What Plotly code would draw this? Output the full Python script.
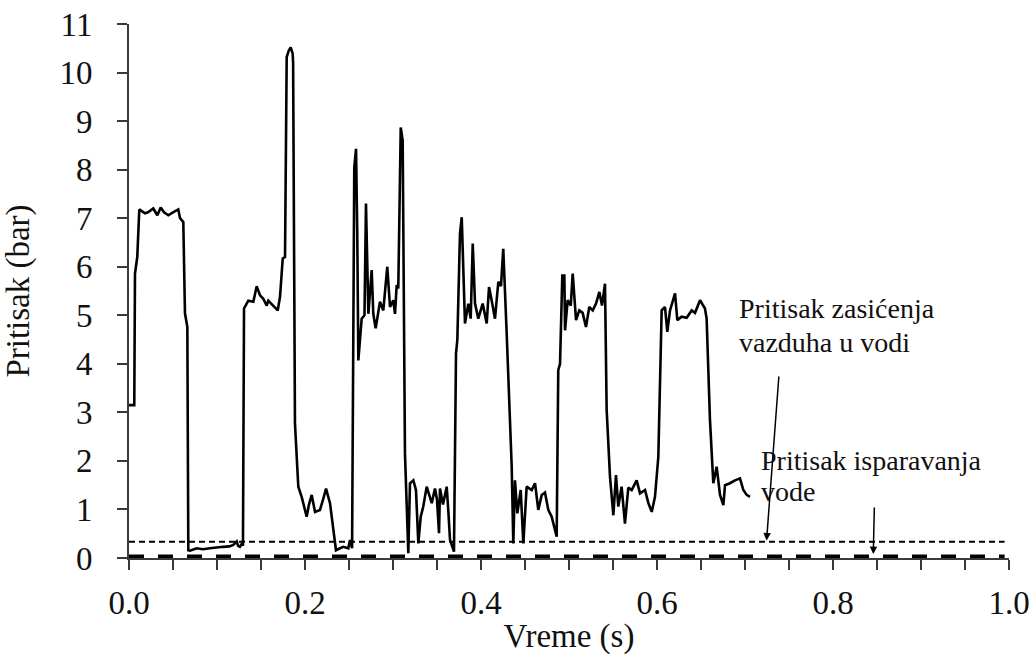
import plotly.graph_objects as go

# Time (s) and pressure (bar)
time_s = [0.000, 0.006, 0.0068, 0.0094, 0.0117, 0.0182, 0.0216, 0.0276, 0.0322, 0.036, 0.0398, 0.0447, 0.050, 0.056, 0.058, 0.0617, 0.0636, 0.0663, 0.0674,
          0.0693, 0.077, 0.084, 0.092, 0.099, 0.107, 0.114, 0.1185, 0.1224, 0.124, 0.126, 0.1284, 0.1295, 0.1307,
          0.1356, 0.1413, 0.1451, 0.1489, 0.1526, 0.1565, 0.1583, 0.164, 0.169, 0.1716, 0.1747, 0.1773, 0.1792, 0.1815, 0.1837, 0.186, 0.1865, 0.1886,
          0.1924, 0.1962, 0.2019, 0.2045, 0.2076, 0.2114, 0.217, 0.2205, 0.2239, 0.2284, 0.2322, 0.2352, 0.2398, 0.2435, 0.2492, 0.2511, 0.2535,
          0.256, 0.258, 0.2594, 0.2606, 0.2644, 0.2676, 0.2693, 0.272, 0.2758, 0.2776, 0.2803, 0.2852, 0.289, 0.2935, 0.2966, 0.3003, 0.3023, 0.3042, 0.306, 0.3088, 0.311,
          0.3136, 0.3174, 0.3193, 0.3231, 0.3261, 0.3288, 0.3315, 0.3344, 0.3383, 0.3409, 0.344, 0.3477, 0.350, 0.3523, 0.3534, 0.3568, 0.361, 0.3628, 0.3648, 0.3693,
          0.3716, 0.3731, 0.3761, 0.3781, 0.3799, 0.3818, 0.3856, 0.3883, 0.3906, 0.3932, 0.3969, 0.4019, 0.4065, 0.4091, 0.4122, 0.4159, 0.4197, 0.4227, 0.4253, 0.4269, 0.4292,
          0.4349, 0.4367, 0.4386, 0.4413, 0.4451, 0.4481, 0.4519, 0.4576, 0.4614, 0.4651, 0.469, 0.4727, 0.4765, 0.4803, 0.486,
          0.4878, 0.4898, 0.4924, 0.4947, 0.4955, 0.4985, 0.502, 0.5042, 0.508, 0.5117, 0.5155, 0.5193, 0.523, 0.527, 0.5307, 0.5345, 0.5375, 0.5409,
          0.5428, 0.5466, 0.5504, 0.5534, 0.556, 0.5598, 0.5636, 0.5674, 0.5712, 0.5769, 0.5807, 0.5864, 0.5902, 0.594, 0.5977,
          0.6015, 0.6053, 0.6091, 0.6117, 0.6148, 0.6205, 0.6231, 0.628, 0.6337, 0.6394, 0.6432, 0.6489, 0.6545, 0.6564,
          0.6602, 0.664, 0.6678, 0.6716, 0.6754, 0.6773, 0.6829, 0.6886, 0.6943, 0.6981, 0.7019, 0.7057]

pressure_bar = [3.15, 3.15, 5.86, 6.2, 7.18, 7.10, 7.12, 7.2, 7.06, 7.22, 7.12, 7.06, 7.12, 7.18, 7.0, 6.92, 5.04, 4.76, 0.16,
                0.15, 0.2, 0.18, 0.2, 0.22, 0.23, 0.24, 0.27, 0.34, 0.25, 0.23, 0.3, 0.25, 5.14,
                5.3, 5.28, 5.6, 5.41, 5.34, 5.2, 5.3, 5.2, 5.1, 5.38, 6.17, 6.2, 10.32, 10.45, 10.52, 10.39, 10.2, 2.77,
                1.47, 1.26, 0.85, 1.1, 1.3, 0.95, 0.99, 1.2, 1.43, 1.13, 0.61, 0.16, 0.2, 0.23, 0.2, 0.37, 0.2,
                8.05, 8.43, 6.7, 4.07, 4.93, 5.0, 7.3, 5.03, 5.93, 5.03, 4.73, 5.28, 5.1, 6.0, 5.17, 5.31, 5.03, 5.62, 5.55, 8.87, 8.6,
                2.15, 0.1, 1.54, 1.6, 1.4, 0.3, 0.85, 1.06, 1.47, 1.3, 1.13, 1.43, 1.2, 0.51, 1.43, 1.1, 1.47, 0.99, 0.37, 0.13,
                4.21, 4.49, 6.68, 7.02, 5.65, 4.83, 5.24, 4.93, 6.48, 5.24, 4.93, 5.24, 4.83, 5.58, 5.3, 4.93, 5.69, 5.6, 6.37, 5.51, 4.62,
                1.88, 0.3, 1.6, 0.92, 1.4, 0.3, 1.47, 1.4, 1.54, 0.99, 1.3, 1.35, 0.99, 0.85, 0.44,
                3.87, 4.0, 5.82, 5.82, 4.69, 5.31, 5.2, 5.86, 4.9, 5.1, 5.05, 4.76, 5.17, 5.1, 5.24, 5.48, 5.2, 5.65,
                3.05, 1.67, 0.88, 1.71, 1.06, 1.47, 0.71, 1.45, 1.4, 1.6, 1.33, 1.4, 1.13, 0.95, 1.26,
                2.08, 5.1, 5.17, 4.66, 5.1, 5.45, 4.9, 4.97, 4.95, 5.1, 5.05, 5.31, 5.14, 4.93,
                2.84, 1.54, 1.88, 1.3, 1.09, 1.5, 1.54, 1.6, 1.64, 1.4, 1.3, 1.26]

# Reference levels (bar)
saturation_pressure = 0.335
vapour_pressure = 0.035
ref_x = [0.0, 0.995]

x_tick_vals = [0.0, 0.2, 0.4, 0.6, 0.8, 1.0]
x_tick_text = ["0.0", "0.2", "0.4", "0.6", "0.8", "1.0"]
y_tick_vals = list(range(0, 12))

label_lines = [
    # (text, x, y)
    ("Pritisak zasićenja", 0.691, 5.13),
    ("vazduha u vodi", 0.691, 4.43),
    ("Pritisak isparavanja", 0.716, 2.00),
    ("vode", 0.716, 1.38),
]

FONT = "Liberation Serif"
AX = "#3a3a3a"
TXT = "#111111"

fig = go.Figure()
fig.add_trace(go.Scatter(x=time_s, y=pressure_bar, mode="lines",
                         line=dict(color="black", width=2.6), showlegend=False))
fig.add_trace(go.Scatter(x=ref_x, y=[saturation_pressure] * 2, mode="lines",
                         line=dict(color="black", width=2, dash="6px,4px"), showlegend=False))
fig.add_trace(go.Scatter(x=ref_x, y=[vapour_pressure] * 2, mode="lines",
                         line=dict(color="black", width=3.5, dash="15px,14px"), showlegend=False))

for txt, lx, ly in label_lines:
    fig.add_annotation(x=lx, y=ly, xref="x", yref="y", xanchor="left", yanchor="middle",
                       align="left", showarrow=False, text=txt,
                       font=dict(family=FONT, size=28, color=TXT))

fig.add_annotation(x=0.7245, y=0.36, ax=0.7386, ay=3.77, xref="x", yref="y", axref="x", ayref="y",
                   showarrow=True, arrowhead=2, arrowsize=1, arrowwidth=1.5, arrowcolor="black", text="")
fig.add_annotation(x=0.8458, y=0.08, ax=0.847, ay=1.07, xref="x", yref="y", axref="x", ayref="y",
                   showarrow=True, arrowhead=2, arrowsize=1, arrowwidth=1.5, arrowcolor="black", text="")

fig.update_layout(
    width=1034, height=663,
    margin=dict(l=129, r=25, t=24, b=105, autoexpand=False),
    paper_bgcolor="white", plot_bgcolor="white",
    font=dict(family=FONT, color=TXT),
)
fig.update_xaxes(range=[0, 1.0], tickvals=x_tick_vals, ticktext=x_tick_text, automargin=False,
                 showline=True, linecolor=AX, linewidth=2, ticks="outside", ticklen=10,
                 tickwidth=2, tickcolor=AX, showgrid=False, zeroline=False,
                 minor=dict(dtick=0.05, ticks="outside", ticklen=10, tickwidth=2, tickcolor=AX, showgrid=False),
                 tickfont=dict(family=FONT, size=33, color=TXT), ticklabelstandoff=4,
                 title=dict(text="Vreme (s)", font=dict(family=FONT, size=33, color=TXT), standoff=4))
fig.update_yaxes(range=[0, 11], tickvals=y_tick_vals, automargin=False,
                 showline=True, linecolor=AX, linewidth=2, ticks="outside", ticklen=10,
                 tickwidth=2, tickcolor=AX, showgrid=False, zeroline=False,
                 tickfont=dict(family=FONT, size=33, color=TXT), ticklabelstandoff=18,
                 title=dict(text="Pritisak (bar)", font=dict(family=FONT, size=33, color=TXT), standoff=22))

fig.write_html("out.html")
